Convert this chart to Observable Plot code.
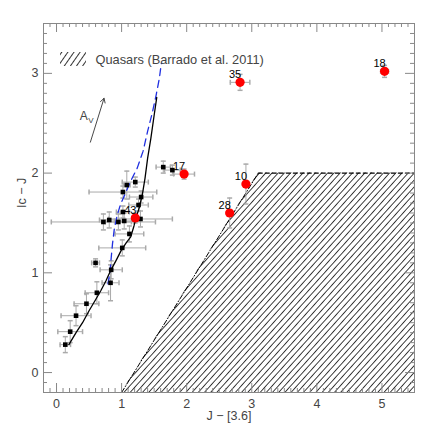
<!DOCTYPE html>
<html><head><meta charset="utf-8">
<script src="https://cdn.jsdelivr.net/npm/d3@7"></script>
<script src="https://cdn.jsdelivr.net/npm/@observablehq/plot@0.6"></script>
<style>body{margin:0;background:#fff;} svg{display:block;}</style>
</head><body>
<script>
// Black squares (cluster members)
const blkX  = [0.135,0.21,0.30,0.46,0.62,0.60,0.83,0.84,1.01,1.12,0.72,0.81,0.95,1.04,1.29,1.02,1.26,1.30,1.02,1.08,1.21,1.64,1.78];
const blkY  = [0.28,0.41,0.57,0.69,0.80,1.10,0.90,1.03,1.25,1.39,1.51,1.53,1.51,1.52,1.54,1.61,1.68,1.76,1.81,1.88,1.91,2.06,2.03];
const blkXe = [0.08,0.19,0.23,0.19,0.18,0.06,0.13,0.17,0.36,0.22,0.80,0.15,0.20,0.15,0.49,0.10,0.15,0.18,0.52,0.05,0.20,0.11,0.12];
const blkYe = [0.08,0.11,0.10,0.10,0.11,0.04,0.18,0.09,0.08,0.08,0.08,0.08,0.08,0.08,0.08,0.06,0.06,0.06,0.06,0.14,0.05,0.06,0.05];
// Red labelled objects
const redLabel = ["43","17","35","18","10","28"];
const redX  = [1.21,1.96,2.82,5.04,2.91,2.66];
const redY  = [1.55,1.99,2.91,3.02,1.89,1.60];
const redXe = [0.05,0.16,0.15,0.06,0.03,0.04];
const redYe = [0.05,0.05,0.08,0.06,0.20,0.15];
// Black solid track
const trackX = [0.19,0.30,0.40,0.50,0.60,0.68,0.76,0.83,0.92,0.99,1.07,1.14,1.19,1.22,1.27,1.32,1.36,1.40,1.45,1.50,1.54];
const trackY = [0.28,0.40,0.50,0.62,0.73,0.82,0.92,1.02,1.13,1.22,1.30,1.36,1.47,1.55,1.65,1.79,1.95,2.15,2.35,2.58,2.76];
// Blue dashed track
const blueX = [0.79,0.82,0.84,0.86,0.89,0.93,0.98,1.06,1.14,1.24,1.33,1.40,1.47,1.53,1.58,1.61];
const blueY = [0.89,1.00,1.15,1.29,1.45,1.57,1.68,1.80,1.92,2.05,2.22,2.42,2.60,2.78,2.95,3.10];
// Quasar region (Barrado et al. 2011)
const qsoX = [1.0,3.1,5.5];
const qsoY = [-0.2,2.0,2.0];
// Extinction vector
const avFrom = [0.52,2.31];
const avTo   = [0.73,2.75];
const avText = [0.42,2.57];
// Ticks
const xMajor = [0,1,2,3,4,5];
const yMajor = [0,1,2,3];
const xLabel = "J − [3.6]";
const yLabel = "Ic − J";
const legendText = "Quasars (Barrado et al. 2011)";

const blk = blkX.map((x,i)=>({x, y: blkY[i], xe: blkXe[i], ye: blkYe[i]}));
const red = redX.map((x,i)=>({x, y: redY[i], xe: redXe[i], ye: redYe[i], label: redLabel[i]}));
const track = trackX.map((x,i)=>({x, y: trackY[i]}));
const blue = blueX.map((x,i)=>({x, y: blueY[i]}));
const qso = qsoX.map((x,i)=>({x, y: qsoY[i]}));
const all = blk.concat(red);

const xMinor = d3.range(-1,55).map(i=>i/10).filter(v=>Math.abs(v-Math.round(v))>1e-6);
const yMinor = d3.range(-1,35).map(i=>i/10).filter(v=>Math.abs(v-Math.round(v))>1e-6);

const W = 436, H = 436, mL = 43, mR = 22, mT = 23, mB = 44;
const pw = W - mL - mR, ph = H - mT - mB;
const tickC = "#888", errC = "#aaa", txtC = "#444";
const capH = {draw(ctx, size){const r=Math.sqrt(size/Math.PI); ctx.moveTo(-r,0); ctx.lineTo(r,0);}};
const capV = {draw(ctx, size){const r=Math.sqrt(size/Math.PI); ctx.moveTo(0,-r); ctx.lineTo(0,r);}};

const chart = Plot.plot({
  width: W, height: H,
  marginLeft: mL, marginRight: mR, marginTop: mT, marginBottom: mB,
  x: {domain: [-0.2, 5.5]},
  y: {domain: [-0.2, 3.5]},
  style: {fontFamily: "Liberation Sans, Arial, sans-serif", fontSize: "12px", color: txtC, background: "#fff"},
  marks: [
    // quasar hatched region
    Plot.areaY(qso, {x: "x", y1: -0.2, y2: "y", fill: "url(#hatch)", curve: "linear"}),
    Plot.line(qso.slice(0,2), {x: "x", y: "y", stroke: "#000", strokeWidth: 1, strokeDasharray: "5,2,1,2"}),
    Plot.line(qso.slice(1), {x: "x", y: "y", stroke: "#000", strokeWidth: 1.2, strokeDasharray: "4,3"}),
    // error bars
    Plot.ruleX(all, {x: "x", y1: d=>d.y-d.ye, y2: d=>d.y+d.ye, stroke: errC, strokeWidth: 1}),
    Plot.ruleY(all, {y: "y", x1: d=>d.x-d.xe, x2: d=>d.x+d.xe, stroke: errC, strokeWidth: 1}),
    Plot.dot(all, {x: "x", y: d=>d.y-d.ye, symbol: capH, r: 2.5, stroke: errC, fill: "none"}),
    Plot.dot(all, {x: "x", y: d=>d.y+d.ye, symbol: capH, r: 2.5, stroke: errC, fill: "none"}),
    Plot.dot(all, {x: d=>d.x-d.xe, y: "y", symbol: capV, r: 2.5, stroke: errC, fill: "none"}),
    Plot.dot(all, {x: d=>d.x+d.xe, y: "y", symbol: capV, r: 2.5, stroke: errC, fill: "none"}),
    // tracks
    Plot.line(blue, {x: "x", y: "y", stroke: "#1f2fe0", strokeWidth: 1.3, strokeDasharray: "7,5"}),
    Plot.line(track, {x: "x", y: "y", stroke: "#000", strokeWidth: 1.3}),
    // points
    Plot.dot(blk, {x: "x", y: "y", symbol: "square", r: 2.6, fill: "#000"}),
    Plot.dot(red, {x: "x", y: "y", r: 4.6, fill: "#ff0000"}),
    Plot.text(red, {x: "x", y: "y", text: "label", dx: -5, dy: -8, fill: "#000", fontSize: 11}),
    // extinction arrow
    Plot.arrow([0], {x1: avFrom[0], y1: avFrom[1], x2: avTo[0], y2: avTo[1], stroke: "#333", strokeWidth: 0.9, headLength: 8}),
    Plot.text([0], {x: avText[0], y: avText[1], text: ()=>"A", fontSize: 12, fill: txtC}),
    Plot.text([0], {x: avText[0], y: avText[1], text: ()=>"V", dx: 7, dy: 4, fontSize: 8, fill: txtC}),
    // legend
    Plot.text([legendText], {text: d=>d, frameAnchor: "top-left", dx: 52, dy: 36, textAnchor: "start", lineAnchor: "middle", fill: txtC, fontSize: 12.8}),
    // ticks (inward, all four sides)
    Plot.ruleX(xMinor, {insetTop: ph - 4, stroke: tickC}),
    Plot.ruleX(xMajor, {insetTop: ph - 9, stroke: tickC}),
    Plot.ruleX(xMinor, {insetBottom: ph - 4, stroke: tickC}),
    Plot.ruleX(xMajor, {insetBottom: ph - 9, stroke: tickC}),
    Plot.ruleY(yMinor, {insetRight: pw - 4, stroke: tickC}),
    Plot.ruleY(yMajor, {insetRight: pw - 9, stroke: tickC}),
    Plot.ruleY(yMinor, {insetLeft: pw - 4, stroke: tickC}),
    Plot.ruleY(yMajor, {insetLeft: pw - 9, stroke: tickC}),
    Plot.frame({stroke: tickC}),
    Plot.axisX({ticks: xMajor, tickSize: 0, tickPadding: 7, label: null, tickFormat: d=>String(d), fontSize: 12.5}),
    Plot.axisY({ticks: yMajor, tickSize: 0, tickPadding: 5, label: null, tickFormat: d=>String(d), fontSize: 12.5}),
    Plot.text([xLabel], {text: d=>d, frameAnchor: "bottom", dy: 27, fontSize: 12.5, fill: txtC}),
    Plot.text([yLabel], {text: d=>d, frameAnchor: "left", dx: -22, rotate: -90, fontSize: 12.5, fill: txtC})
  ]
});

// hatch pattern definitions + legend swatch
const ns = "http://www.w3.org/2000/svg";
const defs = document.createElementNS(ns, "defs");
defs.innerHTML = `<pattern id="hatch" patternUnits="userSpaceOnUse" width="4.6" height="4.6" patternTransform="rotate(42)">
  <line x1="0" y1="0" x2="0" y2="4.6" stroke="#000" stroke-width="1.5"/></pattern>
  <pattern id="hatchL" patternUnits="userSpaceOnUse" width="5" height="5" patternTransform="rotate(35)">
  <line x1="0" y1="0" x2="0" y2="5" stroke="#000" stroke-width="1.6"/></pattern>`;
chart.insertBefore(defs, chart.firstChild);
const sw = document.createElementNS(ns, "rect");
sw.setAttribute("x", 60); sw.setAttribute("y", 52); sw.setAttribute("width", 26); sw.setAttribute("height", 14);
sw.setAttribute("fill", "url(#hatchL)");
chart.appendChild(sw);
document.body.appendChild(chart);
</script>
</body></html>
